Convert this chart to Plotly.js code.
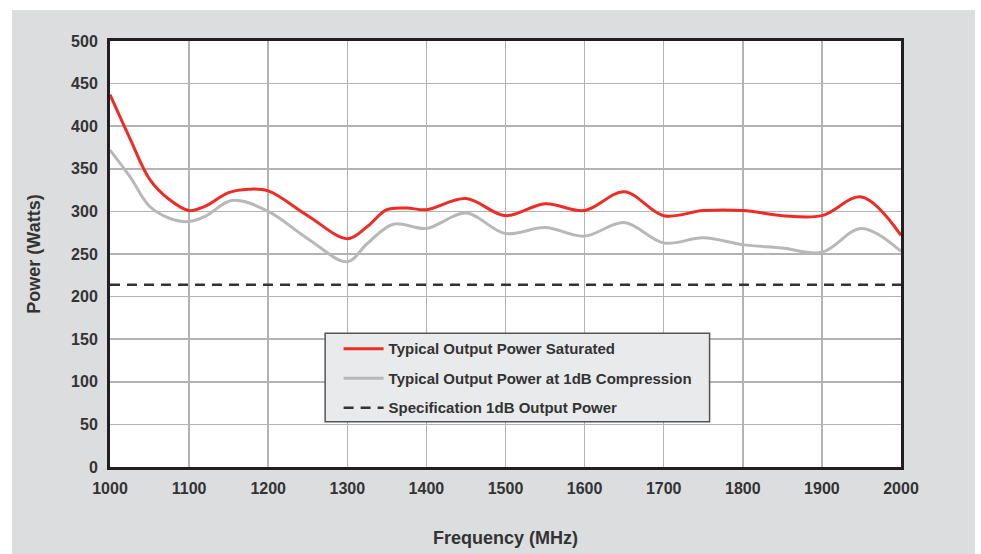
<!DOCTYPE html>
<html>
<head>
<meta charset="utf-8">
<script src="https://cdn.plot.ly/plotly-3.0.1.min.js"></script>
<style>
html,body{margin:0;padding:0;background:#ffffff;width:981px;height:554px;overflow:hidden;}
#frame{position:absolute;left:12px;top:10px;width:963px;height:544px;background:#dcdddf;}
#chart{width:963px;height:544px;}
</style>
</head>
<body>
<div id="frame"><div id="chart"></div></div>
<script>
// Frequency (MHz) samples and power (W) values
const satFreq = [1000,1025,1050,1075,1100,1120,1150,1175,1200,1250,1300,1325,1350,1375,1400,1450,1500,1550,1600,1650,1700,1750,1800,1850,1900,1950,2000];
const satPower = [437,386,338,314,301,306,322,326,324,295,268,282,302,304,302,315,295,309,301,323,295,301,301,295,295,317,272];

const compFreq = [1000,1025,1050,1075,1100,1120,1155,1200,1250,1300,1325,1358,1400,1450,1500,1550,1600,1650,1700,1750,1800,1850,1900,1950,2000];
const compPower = [372,341,306,292,288,294,313,300,268,241,262,285,280,298,274,281,271,287,263,269,261,257,252,280,253];

const specFreq = [1000,2000];
const specPower = [214,214];

const seriesNames = ["Typical Output Power Saturated","Typical Output Power at 1dB Compression","Specification 1dB Output Power"];
const xTicks = [1000,1100,1200,1300,1400,1500,1600,1700,1800,1900,2000];
const yTicks = [0,50,100,150,200,250,300,350,400,450,500];

const fam = "Liberation Sans, Arial, sans-serif";
const col = "#333333";

const traces = [
  {x:satFreq, y:satPower, name:seriesNames[0], mode:"lines", legendgroup:"a",
   line:{color:"#ee2b24", width:3, shape:"spline", smoothing:1}},
  {x:compFreq, y:compPower, name:seriesNames[1], mode:"lines", legendgroup:"b",
   line:{color:"#b8b8b8", width:3, shape:"spline", smoothing:1}},
  {x:specFreq, y:specPower, name:seriesNames[2], mode:"lines", legendgroup:"c",
   line:{color:"#333333", width:2.5, dash:"10px,7px"}}
];

const layout = {
  width:963, height:544,
  margin:{l:98, r:74, t:31, b:87},
  paper_bgcolor:"rgba(0,0,0,0)",
  plot_bgcolor:"#ffffff",
  showlegend:true,
  legend:{x:0.289, y:0.316, xanchor:"left", yanchor:"top", bgcolor:"rgba(0,0,0,0)",
          borderwidth:0, tracegroupgap:7, itemwidth:40,
          font:{family:fam, color:col, weight:"bold", size:15}},
  xaxis:{range:[1000,2000], tickvals:xTicks, ticktext:xTicks.map(String),
         showgrid:true, gridcolor:"#b3b3b3", gridwidth:1.5, zeroline:false,
         showline:true, linecolor:"#231f20", linewidth:3, mirror:true, ticks:"",
         ticklabelstandoff:5,
         tickfont:{family:fam, color:col, weight:"bold", size:16},
         title:{text:"Frequency (MHz)", standoff:36,
                font:{family:fam, color:col, weight:"bold", size:18}}},
  yaxis:{range:[0,500], tickvals:yTicks, ticktext:yTicks.map(String),
         showgrid:true, gridcolor:"#b3b3b3", gridwidth:1.5, zeroline:false,
         showline:true, linecolor:"#231f20", linewidth:3, mirror:true, ticks:"",
         ticklabelstandoff:6,
         tickfont:{family:fam, color:col, weight:"bold", size:16},
         title:{text:"Power (Watts)", standoff:26,
                font:{family:fam, color:col, weight:"bold", size:18}}},
  shapes:[
    {type:"rect", xref:"x", yref:"y", x0:1272, x1:1758, y0:53, y1:157, layer:"above",
     fillcolor:"#e9eaeb", line:{color:"#555555", width:1.5}}
  ]
};

Plotly.newPlot("chart", traces, layout, {staticPlot:true, displayModeBar:false});
</script>
</body>
</html>
